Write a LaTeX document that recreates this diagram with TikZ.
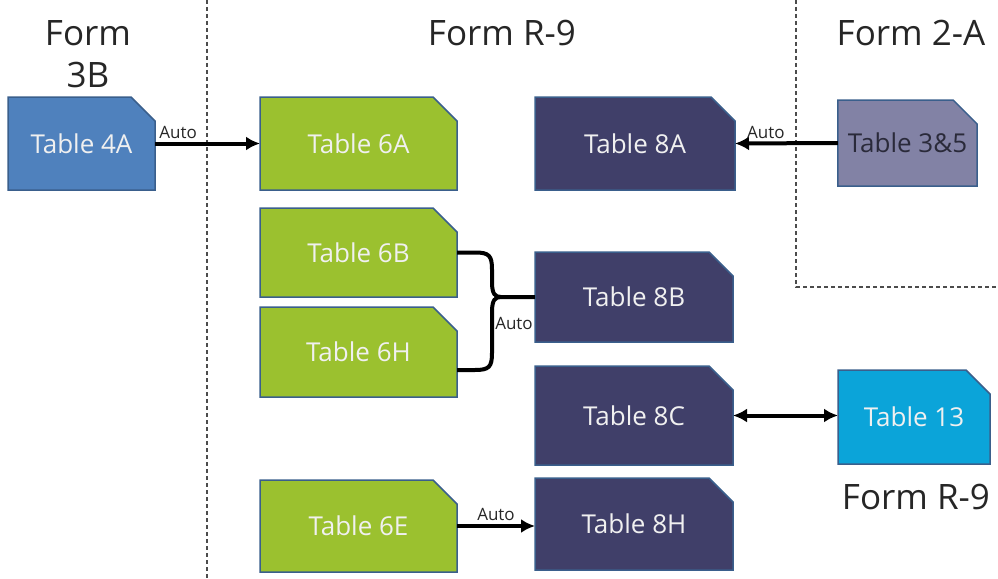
\documentclass[tikz,border=0pt]{standalone}
\usepackage{fontspec}
\setmainfont{Open Sans}
\usetikzlibrary{shapes.misc,arrows.meta}
\definecolor{bluebox}{HTML}{4F81BD}
\definecolor{greenbox}{HTML}{9BC12F}
\definecolor{navybox}{HTML}{403F69}
\definecolor{greybox}{HTML}{8282A5}
\definecolor{cyanbox}{HTML}{0BA4D9}
\definecolor{edgeblue}{HTML}{3A5F8C}
\definecolor{txtdark}{HTML}{2A2A3A}
\begin{document}
\begin{tikzpicture}[x=1pt,y=-1pt,
  tbl/.style={chamfered rectangle, chamfered rectangle corners=north east,
    chamfered rectangle xsep=14pt, chamfered rectangle ysep=14pt,
    draw=edgeblue, line width=1.5pt, inner sep=0pt, outer sep=0pt,
    text=white!94!black, font=\fontsize{26}{30}\selectfont},
  ttl/.style={font=\fontsize{35}{40}\selectfont, text=black!85, inner sep=0pt},
  lbl/.style={font=\fontsize{17}{20}\selectfont, text=black!85, inner sep=1pt},
  conn/.style={line width=4pt, draw=black},
  tip/.style={-{Latex[length=14pt,width=14pt]}},
  sep/.style={draw=black!70, line width=1.2pt, dash pattern=on 4pt off 3pt}
]
\useasboundingbox (0,0) rectangle (998,578);

% separators
\coordinate (s1a) at (207,0);
\coordinate (s1b) at (207,578);
\coordinate (s2a) at (796,0);
\coordinate (s2b) at (796,287);
\coordinate (s2c) at (998,287);
\draw[sep] (s1a) -- (s1b);
\draw[sep] (s2a) -- (s2b) -- (s2c);

% titles
\node[ttl] (f3b) at (88,33) {Form};
\node[ttl] (f3b2) at (88,75) {3B};
\node[ttl] (fr9) at (502,33) {Form R-9};
\node[ttl] (f2a) at (911,33) {Form 2-A};
\node[ttl] (fr9b) at (916,497) {Form R-9};

% tables
\node[tbl, fill=bluebox, minimum width=147pt, minimum height=93pt] (t4A) at (81.5,143.5) {Table 4A};
\node[tbl, fill=greenbox, minimum width=197pt, minimum height=93pt] (t6A) at (358.5,143.5) {Table 6A};
\node[tbl, fill=navybox, minimum width=200pt, minimum height=93pt] (t8A) at (635,143.5) {Table 8A};
\node[tbl, fill=greybox, text=txtdark, minimum width=139pt, minimum height=86pt] (t35) at (907.5,143) {Table 3\&5};
\node[tbl, fill=greenbox, minimum width=197pt, minimum height=89pt] (t6B) at (358.5,252.5) {Table 6B};
\node[tbl, fill=greenbox, minimum width=197pt, minimum height=90pt] (t6H) at (358.5,352) {Table 6H};
\node[tbl, fill=navybox, minimum width=198pt, minimum height=90pt] (t8B) at (634,297) {Table 8B};
\node[tbl, fill=navybox, minimum width=198pt, minimum height=99pt] (t8C) at (634,415.5) {Table 8C};
\node[tbl, fill=cyanbox, minimum width=152pt, minimum height=94pt] (t13) at (914,417) {Table 13};
\node[tbl, fill=greenbox, minimum width=197pt, minimum height=92pt] (t6E) at (358.5,526) {Table 6E};
\node[tbl, fill=navybox, minimum width=198pt, minimum height=92pt] (t8H) at (634,524) {Table 8H};

% connectors
\draw[conn, tip] (t4A.east) -- (t6A.west) node[lbl, pos=0.22, above=2pt] (a1) {Auto};
\draw[conn, tip] (t35.west) -- (t8A.east) node[lbl, pos=0.7, above=2pt] (a2) {Auto};
\draw[conn, {Latex[length=14pt,width=14pt]}-{Latex[length=14pt,width=14pt]}] (t8C.east) -- (t8C.east -| t13.west);
\draw[conn, tip] (t6E.east) -- (t6E.east -| t8H.west) node[lbl, midway, above=2pt] (a3) {Auto};

% brace
\draw[conn] (t6B.east) -- ++(18,0)
  .. controls +(14,0) and +(0,-14) .. ++(17,17) -- (492,282)
  .. controls (492,294) and (495,297) .. (501,297) -- (t8B.west);
\draw[conn] (t6H.east |- 0,370) -- ++(18,0)
  .. controls +(14,0) and +(0,14) .. ++(17,-17) -- (492,312)
  .. controls (492,300) and (495,297) .. (501,297);
\node[lbl] (a4) at (514,323) {Auto};
\end{tikzpicture}
\end{document}
